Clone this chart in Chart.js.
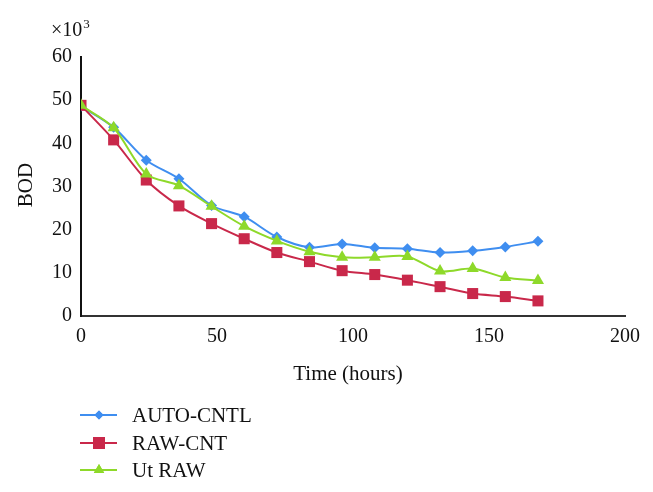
<!DOCTYPE html>
<html>
<head>
<meta charset="utf-8">
<script src="https://cdn.jsdelivr.net/npm/chart.js@4/dist/chart.umd.min.js"></script>
<style>
  html, body { margin: 0; padding: 0; background: #fff; }
  #wrap { width: 653px; height: 492px; position: relative; }
</style>
</head>
<body>
<div id="wrap"><canvas id="chart"></canvas></div>
<script>
const hours = [0, 12, 24, 36, 48, 60, 72, 84, 96, 108, 120, 132, 144, 156, 168];
const autoCntl = [48.6, 43.7, 36.1, 31.8, 25.6, 23.0, 18.3, 15.9, 16.7, 15.8, 15.6, 14.7, 15.1, 16.0, 17.3];
const rawCnt = [48.8, 40.8, 31.5, 25.5, 21.4, 17.9, 14.7, 12.6, 10.5, 9.6, 8.3, 6.8, 5.2, 4.5, 3.5];
const utRaw = [48.8, 43.6, 32.9, 30.2, 25.4, 20.8, 17.4, 14.9, 13.6, 13.6, 13.8, 10.4, 11.0, 8.9, 8.2];
const xTicks = [0, 50, 100, 150, 200];
const yTicks = [0, 10, 20, 30, 40, 50, 60];

const serif = "'Liberation Serif', 'DejaVu Serif', serif";

function pts(values) {
    return hours.map((h, i) => ({ x: h, y: values[i] }));
}

// order: lower numbers are painted on top
const series = [
    { label: 'AUTO-CNTL', values: autoCntl, color: '#3f8ef0', style: 'rectRot', radius: 5.5, legendRadius: 4.5, order: 2 },
    { label: 'RAW-CNT', values: rawCnt, color: '#c9284a', style: 'rect', radius: 7.8, legendRadius: 8.5, order: 1 },
    { label: 'Ut RAW', values: utRaw, color: '#8ed92a', style: 'triangle', radius: 7, legendRadius: 6, order: 0 },
];

// extra texts and the vertical legend, drawn on the canvas
const extras = {
    id: 'extras',
    afterDraw(chart) {
        const ctx = chart.ctx;
        ctx.save();
        ctx.fillStyle = '#111';
        ctx.textBaseline = 'alphabetic';
        ctx.textAlign = 'left';
        ctx.font = '20px ' + serif;
        ctx.fillText('\u00d710', 51, 36);
        const w = ctx.measureText('\u00d710').width;
        ctx.font = '13px ' + serif;
        ctx.fillText('3', 51 + w + 1, 28);

        ctx.font = '21px ' + serif;
        ctx.textAlign = 'center';
        ctx.fillText('Time (hours)', 348, 380);

        ctx.save();
        ctx.translate(32, 185);
        ctx.rotate(-Math.PI / 2);
        ctx.fillText('BOD', 0, 0);
        ctx.restore();

        const rows = [415, 443, 470];
        series.forEach((s, i) => {
            const y = rows[i];
            ctx.strokeStyle = s.color;
            ctx.lineWidth = 2;
            ctx.beginPath();
            ctx.moveTo(80, y);
            ctx.lineTo(117, y);
            ctx.stroke();
            ctx.fillStyle = s.color;
            Chart.helpers.drawPoint(ctx, { pointStyle: s.style, radius: s.legendRadius, rotation: 0, borderWidth: 0 }, 99, y);
            ctx.fill();
            ctx.fillStyle = '#111';
            ctx.textAlign = 'left';
            ctx.textBaseline = 'middle';
            ctx.font = '21px ' + serif;
            ctx.fillText(s.label, 132, y + 1);
        });
        ctx.restore();
    },
};

new Chart(document.getElementById('chart'), {
    type: 'line',
    data: {
        datasets: series.map((s) => ({
            label: s.label,
            data: pts(s.values),
            order: s.order,
            borderColor: s.color,
            backgroundColor: s.color,
            borderWidth: 2,
            pointStyle: s.style,
            pointRadius: s.radius,
            pointHoverRadius: s.radius,
            pointBorderWidth: 0,
            tension: 0.3,
        })),
    },
    options: {
        responsive: true,
        maintainAspectRatio: false,
        animation: false,
        layout: { padding: { left: 0, top: 57, right: 28, bottom: 96 } },
        plugins: {
            legend: { display: false },
            tooltip: { enabled: false },
        },
        scales: {
            x: {
                type: 'linear',
                min: 0,
                max: 200,
                afterBuildTicks(scale) {
                    scale.ticks = xTicks.map((v) => ({ value: v }));
                },
                afterFit(scale) { scale.height = 80; },
                grid: { display: false, drawTicks: false },
                border: { color: '#333', width: 2 },
                ticks: { color: '#111', font: { family: serif, size: 20 }, padding: 9 },
            },
            y: {
                min: 0,
                max: 60,
                afterBuildTicks(scale) {
                    scale.ticks = yTicks.map((v) => ({ value: v }));
                },
                afterFit(scale) { scale.width = 81; },
                grid: { display: false, drawTicks: false },
                border: { color: '#111', width: 2 },
                ticks: { color: '#111', font: { family: serif, size: 20 }, padding: 9 },
            },
        },
    },
    plugins: [extras],
});
</script>
</body>
</html>
